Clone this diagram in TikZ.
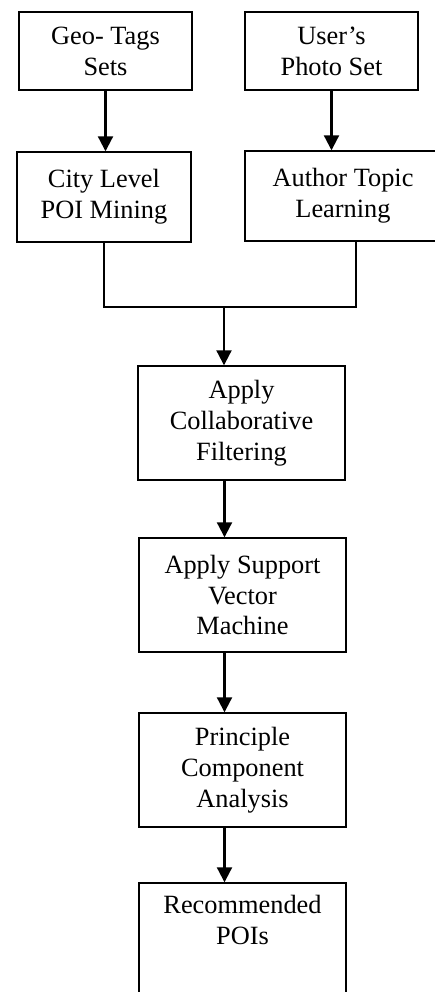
\documentclass[tikz,border=0pt]{standalone}
\usepackage{fontspec}
\setmainfont{Liberation Serif}
\usetikzlibrary{arrows.meta}
\begin{document}
\begin{tikzpicture}[
  stage/.style={draw, line width=0.8pt, align=center, inner sep=0pt,
    font=\fontsize{15}{17.6}\selectfont},
  flow/.style={draw, line width=1.2pt, -{Triangle[width=0.3cm,length=0.3cm]}}]
\useasboundingbox (0,0) rectangle (8.7,-19.84);

\node[stage, minimum width=3.46cm, minimum height=1.56cm] (geo) at (2.11,-1.02) {Geo- Tags\\Sets};
\node[stage, minimum width=3.46cm, minimum height=1.56cm] (photo) at (6.63,-1.02) {User’s\\Photo Set};
\node[stage, minimum width=3.48cm, minimum height=1.8cm] (city) at (2.08,-3.94) {City Level\\POI Mining};
\node[stage, minimum width=3.92cm, minimum height=1.8cm] (author) at (6.86,-3.92) {Author Topic\\Learning};
\node[stage, minimum width=4.14cm, minimum height=2.28cm] (collab) at (4.83,-8.46) {Apply\\Collaborative\\Filtering};
\node[stage, minimum width=4.14cm, minimum height=2.28cm] (svm) at (4.85,-11.9) {Apply Support\\Vector\\Machine};
\node[stage, minimum width=4.14cm, minimum height=2.28cm] (pca) at (4.85,-15.4) {Principle\\Component\\Analysis};
\node[stage, minimum width=4.14cm, minimum height=2.28cm] (poi) at (4.85,-18.8) {Recommended\\POIs\\\strut};
\coordinate (join) at (4.48,-6.14);

\path[flow] (geo.south) -- (geo.south |- city.north);
\path[flow] (photo.south) -- (photo.south |- author.north);
\path[draw, line width=0.8pt] (city.south) |- (join) -| ([xshift=0.26cm]author.south);
\path[flow] (join) -- (join |- collab.north);
\path[flow] ([xshift=-0.34cm]collab.south) -- ([xshift=-0.34cm]collab.south |- svm.north);
\path[flow] ([xshift=-0.36cm]svm.south) -- ([xshift=-0.36cm]svm.south |- pca.north);
\path[flow] ([xshift=-0.36cm]pca.south) -- ([xshift=-0.36cm]pca.south |- poi.north);
\end{tikzpicture}
\end{document}
